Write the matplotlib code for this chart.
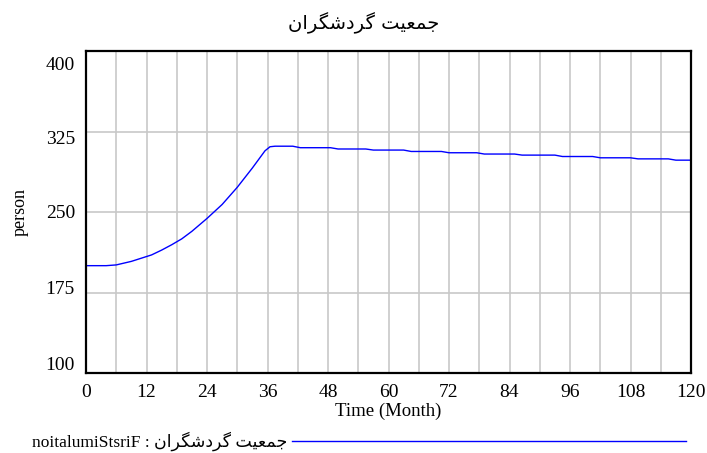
import matplotlib
matplotlib.use("Agg")
import matplotlib.pyplot as plt
from matplotlib.transforms import ScaledTranslation

# ---- data ----
months = [0, 4, 6, 9, 11, 13, 15, 17, 19, 21, 24, 27, 30, 33, 35.5, 36.5, 37.5,
          41, 42.5, 48.5, 50, 55.5, 57, 63, 64.5, 70.5, 72, 77.5, 79, 85, 86.5,
          93, 94.5, 100.5, 102, 108, 109.5, 115.5, 117, 120]
tourists = [200, 200, 200.7, 204, 207, 210, 214.5, 219.5, 225, 232, 244, 257, 273,
            291, 307, 310.8, 311.3, 311.3, 309.9, 309.9, 308.7, 308.7, 307.7, 307.7,
            306.4, 306.4, 305.2, 305.2, 304.0, 304.0, 303.0, 303.0, 301.7, 301.7,
            300.5, 300.5, 299.5, 299.5, 298.3, 298.3]
x_ticks = [0, 12, 24, 36, 48, 60, 72, 84, 96, 108, 120]
x_grid = list(range(0, 121, 6))
y_ticks = [100, 175, 250, 325, 400]

# Persian title, shaped with presentation forms in visual order
title_text = "\uFEE5\uFE8D\uFEAE\uFB95\uFEB7\uFEA9\uFEAE\uFB94 \uFE96\uFEF4\uFECC\uFEE4\uFE9F"
legend_text = "noitalumiStsriF : " + title_text

fig = plt.figure(figsize=(7.07, 4.53), dpi=100)
ax = fig.add_axes([86/707, 1-373/453, (691-86)/707, (373-51)/453])

ax.set_xlim(0, 120)
ax.set_ylim(100, 400)
ax.set_xticks(x_ticks)
ax.set_xticks(x_grid, minor=True)
ax.set_yticks(y_ticks)
ax.grid(True, which="both", axis="x", color="#c8c8c8", linewidth=1.2)
ax.grid(True, which="major", axis="y", color="#c8c8c8", linewidth=1.2)
ax.set_axisbelow(True)
ax.tick_params(which="both", length=0)
ax.tick_params(axis="x", pad=8)
ax.tick_params(axis="y", pad=8)
for lab in ax.get_xticklabels() + ax.get_yticklabels():
    lab.set_fontfamily("Liberation Serif")
    lab.set_fontsize(14)

# y tick labels are drawn slightly compressed toward the middle in the reference
shift_px = [10, 4.7, 0, -6, -13]
for lab, dy in zip(ax.get_yticklabels(), shift_px):
    lab.set_transform(lab.get_transform() + ScaledTranslation(0, dy/100, fig.dpi_scale_trans))

for s in ax.spines.values():
    s.set_linewidth(1.6)
    s.set_color("black")

ax.plot(months, tourists, color="#0000ff", linewidth=1.0)

ax.set_xlabel("Time (Month)", family="Liberation Serif", fontsize=13.5, labelpad=1)
ax.set_ylabel("person", family="Liberation Serif", fontsize=13, labelpad=12)

fig.text(364/707, 1-23/453, title_text, family=["DejaVu Sans"], fontsize=14,
         ha="center", va="center")

fig.text(32/707, 1-441/453, legend_text, family=["Liberation Serif", "DejaVu Sans"],
         fontsize=12.5, ha="left", va="center")
fig.add_artist(plt.Line2D([292/707, 686/707], [1-441/453, 1-441/453],
                          color="#0000ff", linewidth=1.0, transform=fig.transFigure))

fig.savefig("out.png", dpi=100)
